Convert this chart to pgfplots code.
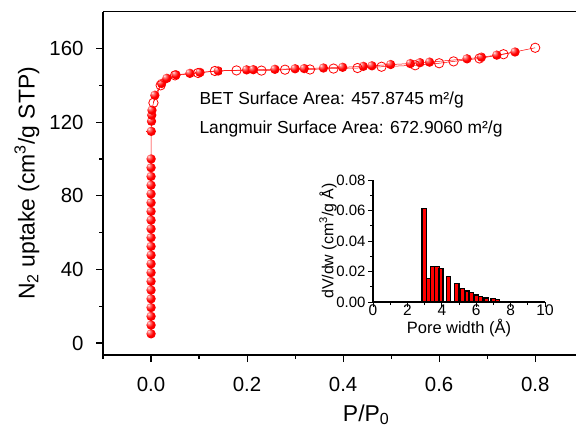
\documentclass[border=0pt]{standalone}
\usepackage{pgfplots}
\pgfplotsset{compat=1.18}
\usepackage{fontspec}
\setmainfont{Liberation Sans}
\pgfdeclareradialshading{redball}{\pgfqpoint{-14bp}{14bp}}{color(0bp)=(white); color(6bp)=(red!45!white); color(20bp)=(red); color(45bp)=(red!92!black); color(70bp)=(red!75!black)}
\pgfdeclareplotmark{rball}{%
  \pgfpathcircle{\pgfpointorigin}{\pgfplotmarksize}%
  \pgfshadepath{redball}{0}%
  \pgfusepath{}%
}
\pgfplotstableread{
x y
0.0001 5
0.0001 9.75
0.0001 14.5
0.0001 19.25
0.0001 24
0.0001 28.75
0.0001 33.5
0.0001 38.25
0.0001 43
0.0001 47.75
0.0001 52.5
0.0001 57.25
0.0001 62
0.0001 66.75
0.0001 71.5
0.0001 76.25
0.0001 81
0.0001 85.75
0.0001 90.5
0.0001 95.25
0.0002 100
0.0005 115
0.001 120.5
0.0015 123.8
0.002 126.5
0.008 134.6
0.022 141
0.033 143.8
0.052 145.7
0.081 146.5
0.102 147
0.140 147.8
0.199 148.4
0.213 148.5
0.258 148.7
0.300 149.0
0.319 149.1
0.359 149.4
0.399 149.8
0.442 150.3
0.460 150.6
0.499 151.3
0.540 151.8
0.560 152.3
0.580 152.6
0.658 154.4
0.688 155.3
0.720 156.4
0.758 158.1
}\adsorption
\pgfplotstableread{
x y
0.800 160.4
0.734 156.9
0.684 154.6
0.630 153.0
0.600 152.0
0.550 150.9
0.480 150.1
0.430 149.4
0.380 149.1
0.331 148.6
0.279 148.5
0.230 148.0
0.178 148.1
0.133 147.8
0.098 146.7
0.050 145.4
0.020 140.0
0.005 130.5
}\desorption
\pgfplotstableread{
x y
2.97 0.0614
3.22 0.0154
3.46 0.0235
3.72 0.0230
3.95 0.0217
4.41 0.0169
4.88 0.0120
5.21 0.0088
5.47 0.0072
5.70 0.0060
6.03 0.0046
6.27 0.0037
6.57 0.0026
6.98 0.0022
7.24 0.0018
}\psd
\begin{document}
\begin{tikzpicture}[x=1bp,y=1bp]
\path[use as bounding box] (0,0) rectangle (576,427);
\begin{axis}[
  at={(103bp,72bp)}, anchor=south west,
  width=473bp, height=343.3bp, scale only axis,
  xmin=-0.1, xmax=0.885, ymin=-6.5, ymax=180,
  axis x line=box, axis y line=left,
  axis line style={-, line width=1.3pt},
  xtick={0,0.2,0.4,0.6,0.8}, minor xtick={-0.1,0.1,0.3,0.5,0.7},
  ytick={0,40,80,120,160}, minor ytick={20,60,100,140},
  xtick pos=left, ytick pos=left,
  tick align=outside,
  major tick length=7bp, minor tick length=4bp,
  every tick/.style={black, line width=1.1pt},
  /pgf/number format/assume math mode=true,
  xticklabel style={font=\fontsize{20.5}{23}\selectfont, yshift=-12bp, /pgf/number format/.cd, fixed, fixed zerofill, precision=1},
  yticklabel style={font=\fontsize{20.5}{23}\selectfont, xshift=-9bp},
  xlabel={P/P\textsubscript{0}},
  ylabel={N\textsubscript{2} uptake (cm\textsuperscript{3}/g STP)},
  xlabel style={font=\fontsize{23}{26}\selectfont, at={(axis cs:0.448,-6.5)}, anchor=base, yshift=-66bp},
  ylabel style={font=\fontsize{23}{26}\selectfont, at={(rel axis cs:-0.1607,0.5)}, anchor=center},
  clip=false,
]
\addplot[red, line width=0.5pt, mark=rball, mark size=4.7pt] table {\adsorption};
\addplot[red, line width=0.5pt, mark=o, mark size=4.7pt, mark options={fill=white, draw=red, line width=0.8pt}] table {\desorption};
\end{axis}
\node[anchor=west, font=\fontsize{17.5}{20}\selectfont] at (196,327) {BET Surface Area: 457.8745 m²/g};
\node[anchor=west, font=\fontsize{17.5}{20}\selectfont] at (196,298.5) {Langmuir Surface Area: 672.9060 m²/g};
\begin{axis}[
  at={(373bp,125bp)}, anchor=south west,
  width=172bp, height=122bp, scale only axis,
  xmin=0, xmax=10, ymin=0, ymax=0.08,
  axis lines=left,
  axis line style={-, line width=1.1pt},
  xtick={0,2,4,6,8,10}, minor xtick={1,3,5,7,9},
  ytick={0,0.02,0.04,0.06,0.08}, minor ytick={0.01,0.03,0.05,0.07},
  scaled y ticks=false,
  tick align=outside,
  major tick length=5bp, minor tick length=3bp,
  every tick/.style={black, line width=0.9pt},
  /pgf/number format/assume math mode=true,
  xticklabel style={font=\fontsize{15.5}{18}\selectfont, yshift=6bp},
  yticklabel style={font=\fontsize{15}{18}\selectfont, xshift=1bp, /pgf/number format/.cd, fixed, fixed zerofill, precision=2},
  xlabel={Pore width (Å)},
  ylabel={dV/dw (cm\textsuperscript{3}/g Å)},
  xlabel style={font=\fontsize{16.5}{19}\selectfont, at={(axis description cs:0.5,-0.213)}, anchor=center},
  ylabel style={font=\fontsize{16}{19}\selectfont, at={(axis description cs:-0.262,0.5)}, anchor=center},
  clip=false,
]
\addplot[ybar, bar width=0.24, fill=red, draw=black, line width=1.1pt] table {\psd};
\end{axis}
\end{tikzpicture}
\end{document}
